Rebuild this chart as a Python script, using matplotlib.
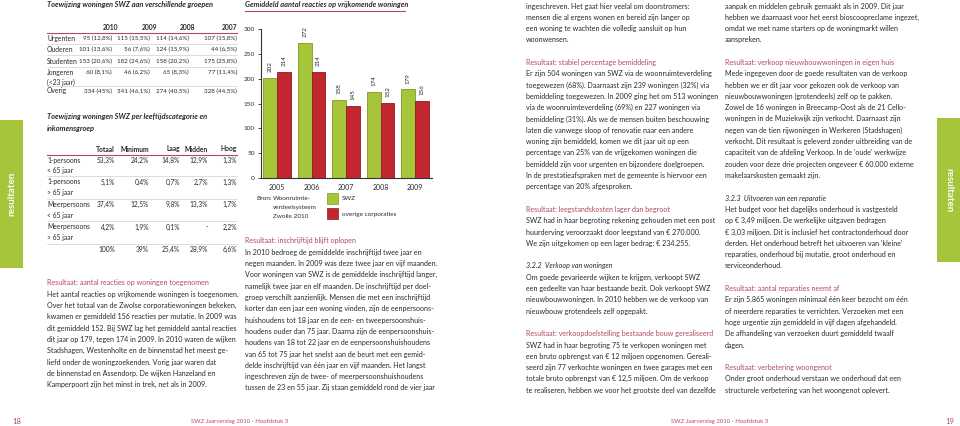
import matplotlib
matplotlib.use("Agg")
import matplotlib.pyplot as plt
from matplotlib import font_manager
from matplotlib.patches import Rectangle
from matplotlib.lines import Line2D

# chart data
years = ['2005', '2006', '2007', '2008', '2009']
swz = [202, 272, 158, 174, 179]
overige = [214, 214, 145, 152, 156]

# table 1
groepen = ['Urgenten', 'Ouderen', 'Studenten', 'Jongeren', 'Overig']
groepen_sub = ['', '', '', '(<23 jaar)', '']
tabel_jaren = ['2010', '2009', '2008', '2007']
toew_2010 = ['95 (12,8%)', '101 (13,6%)', '153 (20,6%)', '60 (8,1%)', '334 (45%)']
toew_2009 = ['115 (15,5%)', '56 (7,6%)', '182 (24,6%)', '46 (6,2%)', '341 (46,1%)']
toew_2008 = ['114 (14,6%)', '124 (15,9%)', '158 (20,2%)', '65 (8,3%)', '274 (40,5%)']
toew_2007 = ['107 (15,8%)', '44 (6,5%)', '175 (25,8%)', '77 (11,4%)', '328 (44,5%)']

# table 2
huish = ['1-persoons', '1-persoons', 'Meerpersoons', 'Meerpersoons', '']
leeftijd = ['< 65 jaar', '> 65 jaar', '< 65 jaar', '> 65 jaar', '']
inkomen_kol = ['Totaal', 'Minimum', 'Laag', 'Midden', 'Hoog']
totaal = ['53,3%', '5,1%', '37,4%', '4,2%', '100%']
minimum = ['24,2%', '0,4%', '12,5%', '1,9%', '39%']
laag = ['14,8%', '0,7%', '9,8%', '0,1%', '25,4%']
midden = ['12,9%', '2,7%', '13,3%', '-', '28,9%']
hoog = ['1,3%', '1,3%', '1,7%', '2,2%', '6,6%']

W, H = 960, 426
GREEN = '#a6c53a'
RED = '#c2272f'
HEAD = '#b24a5a'
INK = '#2a2a2a'

names = set(f.name for f in font_manager.fontManager.ttflist)
body = 'Liberation Sans Narrow' if 'Liberation Sans Narrow' in names else 'Lato'
plt.rcParams['font.family'] = [body, 'DejaVu Sans']

fig = plt.figure(figsize=(9.6, 4.26), dpi=100)
fig.patch.set_facecolor('white')

FS = 5.15
TFS = 4.9   # table labels
NFS = 4.5   # table 1 numbers
NFS2 = 4.8  # table 2 numbers
L = 11.3


def t(x, y, s, **kw):
    kw.setdefault('fontsize', FS)
    kw.setdefault('color', INK)
    kw.setdefault('va', 'center')
    fig.text(x / W, 1 - y / H, s, **kw)


def hline(x0, x1, y, color, lw=0.6):
    fig.add_artist(Line2D([x0 / W, x1 / W], [1 - y / H, 1 - y / H], color=color, lw=lw,
                          transform=fig.transFigure))


def rect(x, y, w, h, color, ec='none', lw=0):
    fig.add_artist(Rectangle((x / W, 1 - (y + h) / H), w / W, h / H, facecolor=color,
                             edgecolor=ec, lw=lw, transform=fig.transFigure))


def column(x, y0, lines):
    y = y0
    for s in lines:
        if s is None:
            y += L
            continue
        if s.startswith('H:'):
            t(x, y, s[2:], color=HEAD)
        elif s.startswith('I:'):
            t(x, y, s[2:], style='italic')
        else:
            t(x, y, s)
        y += L


# side tabs
rect(0, 120, 23, 148, GREEN)
t(11.5, 194, 'resultaten', color='white', fontsize=7, weight='bold', rotation=90, ha='center')
rect(937, 118, 23, 144, GREEN)
t(948.5, 190, 'resultaten', color='white', fontsize=7, weight='bold', rotation=270, ha='center')

# table 1
t(47, 5, 'Toewijzing woningen SWZ aan verschillende groepen', weight='bold', style='italic', fontsize=5.4)
kop_x = [118, 157, 195, 237]
kol_x = [112, 150, 189, 237]
for xx, lab in zip(kop_x, tabel_jaren):
    t(xx, 27, lab, ha='right', weight='bold', fontsize=TFS)
hline(47, 237, 32.5, HEAD, 0.8)
rij_y = [38, 49.5, 61, 72, 91]
for i in range(len(groepen)):
    y = rij_y[i]
    t(47, y, groepen[i], fontsize=TFS)
    if groepen_sub[i]:
        t(47, y + 10, groepen_sub[i], fontsize=TFS)
    for xx, col in zip(kol_x, [toew_2010, toew_2009, toew_2008, toew_2007]):
        t(xx, y, col[i], ha='right', fontsize=NFS)
for y in [43.8, 55.3, 66.8, 86]:
    hline(47, 237, y, '#cfcfcf', 0.5)

# table 2
t(47, 116, 'Toewijzing woningen SWZ per leeftijdscategorie en', weight='bold', style='italic', fontsize=5.4)
t(47, 128, 'inkomensgroep', weight='bold', style='italic', fontsize=5.4)
kol2_x = [115, 149, 180, 208, 237]
for xx, lab in zip(kol2_x, inkomen_kol):
    t(xx, 149, lab, ha='right', weight='bold', fontsize=TFS)
hline(47, 237, 154.5, HEAD, 0.8)
rij2_y = [160, 182, 204.5, 227, 249]
for i in range(len(totaal)):
    y = rij2_y[i]
    if huish[i]:
        t(47, y, huish[i], fontsize=TFS)
        t(47, y + 11, leeftijd[i], fontsize=TFS)
    for xx, col in zip(kol2_x, [totaal, minimum, laag, midden, hoog]):
        t(xx, y, col[i], ha='right', fontsize=NFS2)
for y in [176.5, 198.5, 221, 243.5]:
    hline(47, 237, y, '#cfcfcf', 0.5)

# left column text
column(47, 283, [
    'H:Resultaat: aantal reacties op woningen toegenomen',
    'Het aantal reacties op vrijkomende woningen is toegenomen.',
    'Over het totaal van de Zwolse corporatiewoningen bekeken,',
    'kwamen er gemiddeld 156 reacties per mutatie. In 2009 was',
    'dit gemiddeld 152. Bij SWZ lag het gemiddeld aantal reacties',
    'dit jaar op 179, tegen 174 in 2009. In 2010 waren de wijken',
    'Stadshagen, Westenholte en de binnenstad het meest ge-',
    'liefd onder de woningzoekenden. Vorig jaar waren dat',
    'de binnenstad en Assendorp. De wijken Hanzeland en',
    'Kamperpoort zijn het minst in trek, net als in 2009.',
])

# bar chart
t(245, 5, 'Gemiddeld aantal reacties op vrijkomende woningen', weight='bold', style='italic', fontsize=5.3)
hline(245, 405, 11, HEAD, 0.8)

ax = fig.add_axes([261 / W, 1 - 178 / H, (432 - 261) / W, (178 - 29) / H])
x = list(range(len(years)))
b1 = ax.bar([i - 0.2 for i in x], swz, width=0.4, color=GREEN, edgecolor='#7f9a22', linewidth=0.6)
b2 = ax.bar([i + 0.2 for i in x], overige, width=0.4, color=RED, edgecolor='#8c1a22', linewidth=0.6)
for bars in (b1, b2):
    for r in bars:
        ax.annotate(str(int(r.get_height())), (r.get_x() + r.get_width() / 2, r.get_height()),
                    xytext=(0, 4), textcoords='offset points', rotation=90,
                    ha='center', va='bottom', fontsize=4.5, color=INK)
ax.set_xlim(-0.47, 4.49)
ax.set_ylim(0, 300)
ax.set_yticks(range(0, 301, 50))
ax.set_xticks(x)
ax.set_xticklabels(years)
ax.tick_params(axis='y', length=2.5, width=0.6, labelsize=4.6, colors=INK, pad=2)
ax.tick_params(axis='x', length=0, labelsize=5, colors=INK, pad=4)
for s in ['top', 'right']:
    ax.spines[s].set_visible(False)
for s in ['left', 'bottom']:
    ax.spines[s].set_linewidth(0.8)
    ax.spines[s].set_color('#333333')
ax.set_facecolor('none')

# legend
t(256, 199, 'Bron:', fontsize=4.6)
t(273, 199, 'Woonruimte-', fontsize=4.6)
t(273, 207.5, 'verdeelsysteem', fontsize=4.6)
t(273, 216, 'Zwolle 2010', fontsize=4.6)
rect(327, 193, 11, 11, GREEN, '#7f9a22', 0.5)
t(342, 199, 'SWZ', fontsize=4.6)
rect(327, 208, 11, 11, RED, '#8c1a22', 0.5)
t(342, 214, 'overige corporaties', fontsize=4.6)

# middle column text
column(245, 241, [
    'H:Resultaat: inschrijftijd blijft oplopen',
    'In 2010 bedroeg de gemiddelde inschrijftijd twee jaar en',
    'negen maanden. In 2009 was deze twee jaar en vijf maanden.',
    'Voor woningen van SWZ is de gemiddelde inschrijftijd langer,',
    'namelijk twee jaar en elf maanden. De inschrijftijd per doel-',
    'groep verschilt aanzienlijk. Mensen die met een inschrijftijd',
    'korter dan een jaar een woning vinden, zijn de eenpersoons-',
    'huishoudens tot 18 jaar en de een- en tweepersoonshuis-',
    'houdens ouder dan 75 jaar. Daarna zijn de eenpersoonshuis-',
    'houdens van 18 tot 22 jaar en de eenpersoonshuishoudens',
    'van 65 tot 75 jaar het snelst aan de beurt met een gemid-',
    'delde inschrijftijd van één jaar en vijf maanden. Het langst',
    'ingeschreven zijn de twee- of meerpersoonshuishoudens',
    'tussen de 23 en 55 jaar. Zij staan gemiddeld rond de vier jaar',
])

# right page, column 1
column(526, 6, [
    'ingeschreven. Het gaat hier veelal om doorstromers:',
    'mensen die al ergens wonen en bereid zijn langer op',
    'een woning te wachten die volledig aansluit op hun',
    'woonwensen.',
    None,
    'H:Resultaat: stabiel percentage bemiddeling',
    'Er zijn 504 woningen van SWZ via de woonruimteverdeling',
    'toegewezen (68%). Daarnaast zijn 239 woningen (32%) via',
    'bemiddeling toegewezen. In 2009 ging het om 513 woningen',
    'via de woonruimteverdeling (69%) en 227 woningen via',
    'bemiddeling (31%). Als we de mensen buiten beschouwing',
    'laten die vanwege sloop of renovatie naar een andere',
    'woning zijn bemiddeld, komen we dit jaar uit op een',
    'percentage van 25% van de vrijgekomen woningen die',
    'bemiddeld zijn voor urgenten en bijzondere doelgroepen.',
    'In de prestatieafspraken met de gemeente is hiervoor een',
    'percentage van 20% afgesproken.',
    None,
    'H:Resultaat: leegstandskosten lager dan begroot',
    'SWZ had in haar begroting rekening gehouden met een post',
    'huurderving veroorzaakt door leegstand van € 270.000.',
    'We zijn uitgekomen op een lager bedrag: € 234.255.',
    None,
    'I:3.2.2  Verkoop van woningen',
    'Om goede gevarieerde wijken te krijgen, verkoopt SWZ',
    'een gedeelte van haar bestaande bezit. Ook verkoopt SWZ',
    'nieuwbouwwoningen. In 2010 hebben we de verkoop van',
    'nieuwbouw grotendeels zelf opgepakt.',
    None,
    'H:Resultaat: verkoopdoelstelling bestaande bouw gerealiseerd',
    'SWZ had in haar begroting 75 te verkopen woningen met',
    'een bruto opbrengst van € 12 miljoen opgenomen. Gereali-',
    'seerd zijn 77 verkochte woningen en twee garages met een',
    'totale bruto opbrengst van € 12,5 miljoen. Om de verkoop',
    'te realiseren, hebben we voor het grootste deel van dezelfde',
])

# right page, column 2
column(725, 6, [
    'aanpak en middelen gebruik gemaakt als in 2009. Dit jaar',
    'hebben we daarnaast voor het eerst bioscoopreclame ingezet,',
    'omdat we met name starters op de woningmarkt willen',
    'aanspreken.',
    None,
    'H:Resultaat: verkoop nieuwbouwwoningen in eigen huis',
    'Mede ingegeven door de goede resultaten van de verkoop',
    'hebben we er dit jaar voor gekozen ook de verkoop van',
    'nieuwbouwwoningen (grotendeels) zelf op te pakken.',
    'Zowel de 16 woningen in Breecamp-Oost als de 21 Cello-',
    'woningen in de Muziekwijk zijn verkocht. Daarnaast zijn',
    'negen van de tien rijwoningen in Werkeren (Stadshagen)',
    'verkocht. Dit resultaat is geleverd zonder uitbreiding van de',
    "capaciteit van de afdeling Verkoop. In de 'oude' werkwijze",
    'zouden voor deze drie projecten ongeveer € 60.000 externe',
    'makelaarskosten gemaakt zijn.',
    None,
    'I:3.2.3  Uitvoeren van een reparatie',
    'Het budget voor het dagelijks onderhoud is vastgesteld',
    'op € 3,49 miljoen. De werkelijke uitgaven bedragen',
    '€ 3,03 miljoen. Dit is inclusief het contractonderhoud door',
    "derden. Het onderhoud betreft het uitvoeren van 'kleine'",
    'reparaties, onderhoud bij mutatie, groot onderhoud en',
    'serviceonderhoud.',
    None,
    'H:Resultaat: aantal reparaties neemt af',
    'Er zijn 5.865 woningen minimaal één keer bezocht om één',
    'of meerdere reparaties te verrichten. Verzoeken met een',
    'hoge urgentie zijn gemiddeld in vijf dagen afgehandeld.',
    'De afhandeling van verzoeken duurt gemiddeld twaalf',
    'dagen.',
    None,
    'H:Resultaat: verbetering woongenot',
    'Onder groot onderhoud verstaan we onderhoud dat een',
    'structurele verbetering van het woongenot oplevert.',
])

# footers
t(12, 421, '18', color=HEAD, fontsize=5.5)
t(240, 421, 'SWZ Jaarverslag 2010 - Hoofdstuk 3', color=HEAD, fontsize=4.3, ha='center')
t(720, 421, 'SWZ Jaarverslag 2010 - Hoofdstuk 3', color=HEAD, fontsize=4.3, ha='center')
t(945, 421, '19', color=HEAD, fontsize=5.5)

fig.savefig('out.png', dpi=100)
